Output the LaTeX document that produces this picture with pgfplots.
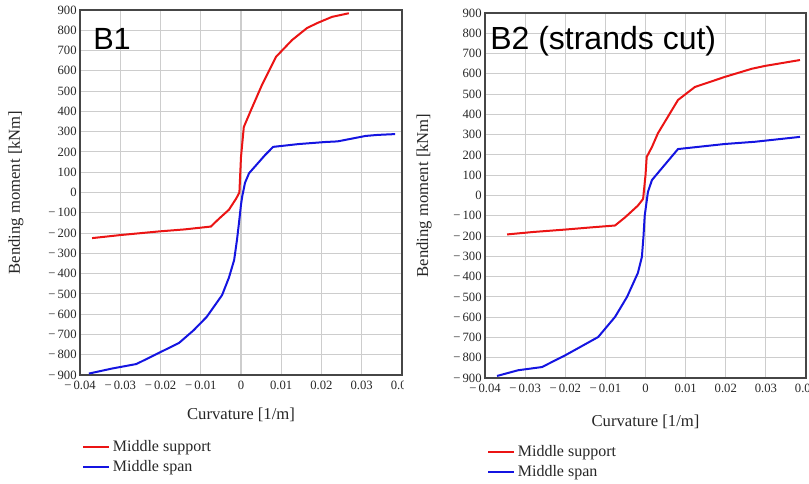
\documentclass[border=0pt]{standalone}
\usepackage{fontspec}
\setmainfont{Liberation Serif}
\newfontfamily\titlefont{Liberation Sans}
\usepackage{pgfplots}
\pgfplotsset{compat=1.18}

\definecolor{gridgray}{RGB}{205,205,205}
\definecolor{boxgray}{RGB}{70,70,70}
\definecolor{curvered}{RGB}{235,20,20}
\definecolor{curveblue}{RGB}{20,20,225}

\pgfplotsset{
  mcurve/.style={
    scale only axis,
    xmin=-0.04, xmax=0.04,
    ymin=-900, ymax=900,
    scaled x ticks=false,
    xtick={-0.04,-0.03,...,0.04},
    ytick={-900,-800,...,900},
    xticklabels={−\,0.04,−\,0.03,−\,0.02,−\,0.01,0,0.01,0.02,0.03,0.04},
    yticklabels={−\,900,−\,800,−\,700,−\,600,−\,500,−\,400,−\,300,−\,200,−\,100,0,100,200,300,400,500,600,700,800,900},
    grid=major,
    grid style={gridgray, line width=0.8pt},
    axis line style={boxgray, line width=1.1pt},
    major tick length=0pt,
    tick label style={font=\fontsize{9.5}{10}\selectfont, text=black!85},
    xticklabel style={yshift=-1pt},
    yticklabel style={xshift=1pt},
    label style={font=\fontsize{12.5}{14}\selectfont, text=black!85},
    xlabel={Curvature [1/m]},
    ylabel={Bending moment [kNm]},
    legend style={draw=none, fill=none, font=\fontsize{12}{13}\selectfont,
      anchor=north west, inner sep=0pt, row sep=1pt,
      nodes={inner sep=2pt, text=black!85}},
    legend cell align=left,
    legend image code/.code={\draw[#1] (0pt,0pt) -- (19.5pt,0pt);},
    every axis plot/.append style={line width=1.5pt},
  }
}

\begin{document}
\begin{tikzpicture}
\useasboundingbox (0,0) rectangle (606.75pt,363pt);

% B1
\begin{axis}[mcurve,
  at={(60pt,81.75pt)}, anchor=south west,
  width=241.5pt, height=273.75pt,
  xlabel style={at={(axis description cs:0.5,0)}, anchor=base, yshift=-33.75pt},
  ylabel style={at={(axis description cs:-0.199,0.5)}, anchor=center},
  legend style={at={(axis description cs:0.006,0)}, yshift=-47pt},
]
\addplot[curvered] coordinates {
  (-0.0370,-225) (-0.0300,-210) (-0.0204,-192) (-0.0140,-182) (-0.0075,-168)
  (-0.0055,-130) (-0.0030,-85) (-0.0012,-30) (-0.0004,0) (0.0000,175)
  (0.0007,323) (0.0025,407) (0.0052,530) (0.0087,669) (0.0127,752)
  (0.0164,811) (0.0190,836) (0.0226,866) (0.0268,884)
};
\addlegendentry{Middle support}
\addplot[curveblue] coordinates {
  (-0.0378,-893) (-0.0320,-868) (-0.0260,-846) (-0.0204,-791) (-0.0154,-742)
  (-0.0118,-680) (-0.0085,-613) (-0.0047,-506) (-0.0030,-420) (-0.0017,-333)
  (-0.0010,-234) (-0.0005,-150) (0.0000,-60) (0.0003,-20) (0.0010,48)
  (0.0020,95) (0.0040,140) (0.0060,185) (0.0080,225) (0.0144,239)
  (0.0210,249) (0.0240,252) (0.0310,279) (0.0340,284) (0.0383,288)
};
\addlegendentry{Middle span}
\end{axis}

% white cover where the first picture is cut
\fill[white] (303pt,0pt) rectangle (340pt,100pt);

% B2
\begin{axis}[mcurve,
  at={(363.75pt,79.5pt)}, anchor=south west,
  width=240.75pt, height=273.75pt,
  xlabel style={at={(axis description cs:0.5,0)}, anchor=base, yshift=-36.75pt},
  ylabel style={at={(axis description cs:-0.190,0.5)}, anchor=center},
  legend style={at={(axis description cs:0.006,0)}, yshift=-48.5pt},
]
\addplot[curvered] coordinates {
  (-0.0345,-192) (-0.0280,-180) (-0.0200,-168) (-0.0140,-158) (-0.0076,-148)
  (-0.0051,-108) (-0.0019,-50) (-0.0006,-17) (0.0000,100) (0.0003,190)
  (0.0016,239) (0.0031,307) (0.0081,471) (0.0123,535) (0.0198,585)
  (0.0265,625) (0.0298,639) (0.0385,668)
};
\addlegendentry{Middle support}
\addplot[curveblue] coordinates {
  (-0.0370,-890) (-0.0318,-862) (-0.0258,-846) (-0.0200,-788) (-0.0158,-742)
  (-0.0118,-698) (-0.0076,-599) (-0.0046,-500) (-0.0019,-382) (-0.0009,-303)
  (-0.0005,-200) (-0.0002,-100) (0.0000,-71) (0.0006,17) (0.0016,76)
  (0.0041,135) (0.0081,229) (0.0198,254) (0.0273,265) (0.0385,289)
};
\addlegendentry{Middle span}
\end{axis}

\node[anchor=base west, inner sep=0pt, font=\titlefont\fontsize{23}{24}\selectfont] at (69.75pt,325.5pt) {B1};
\node[anchor=base west, inner sep=0pt, font=\titlefont\fontsize{24}{25}\selectfont] at (367.5pt,325.5pt) {B2 (strands cut)};
\end{tikzpicture}
\end{document}
